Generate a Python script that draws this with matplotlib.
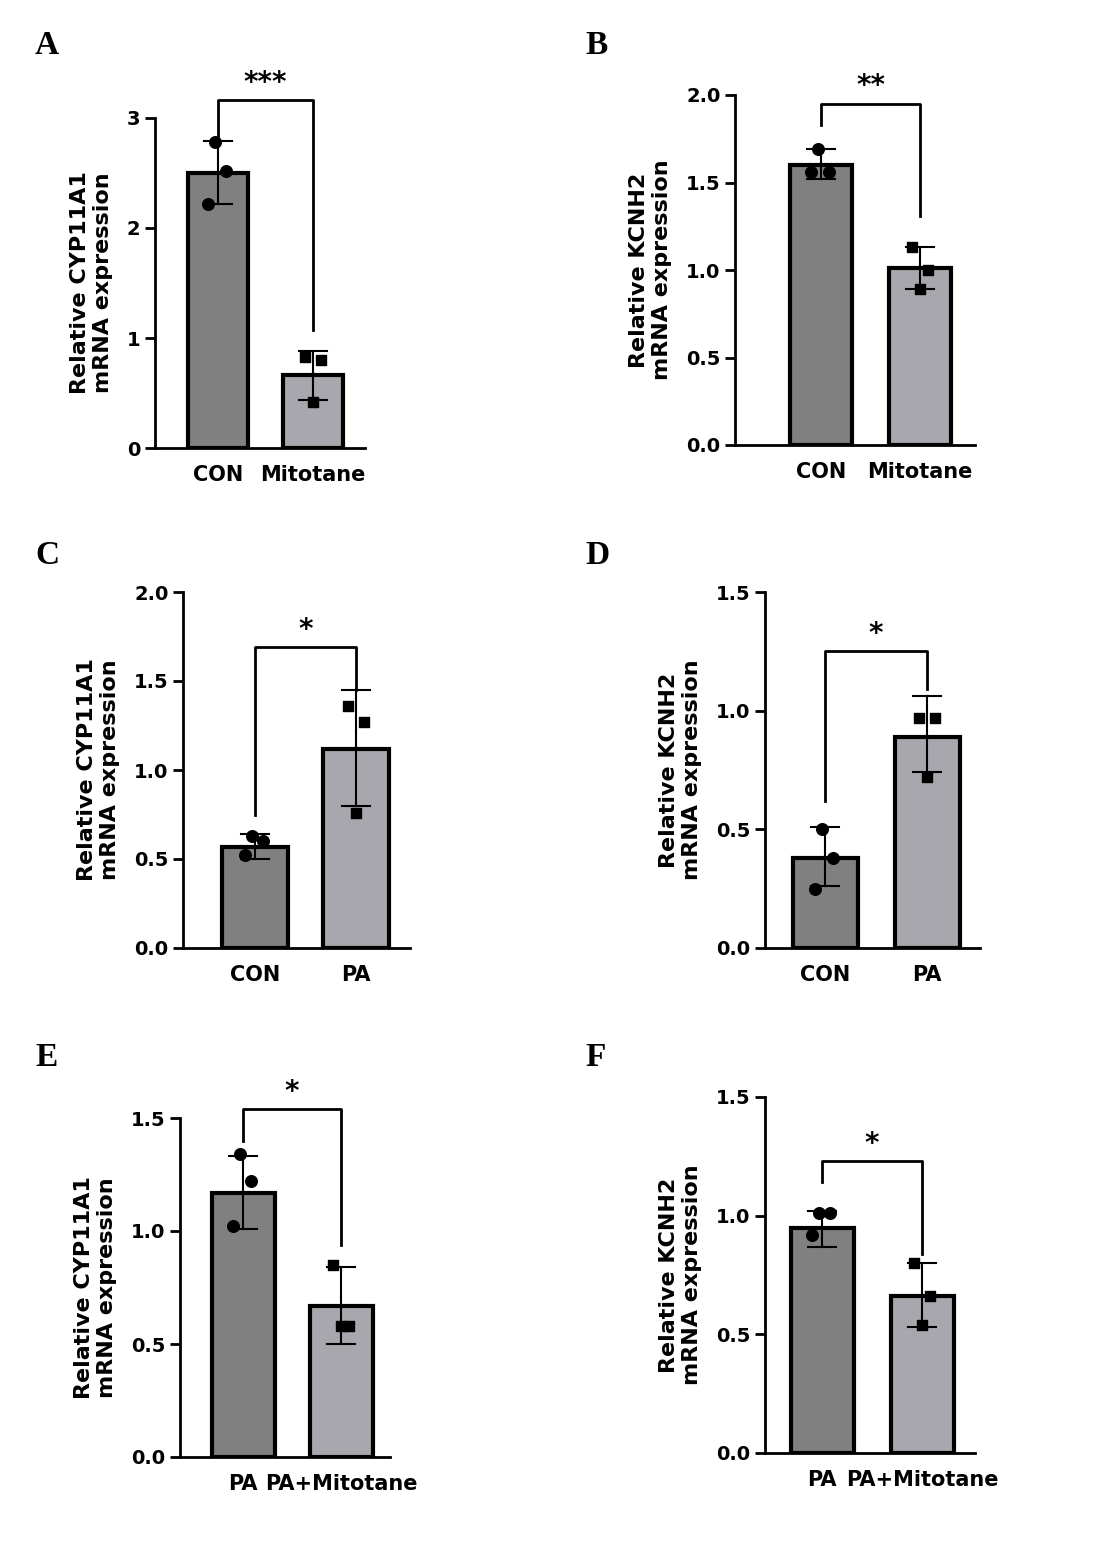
import matplotlib
matplotlib.use("Agg")
import matplotlib.pyplot as plt

W, H = 1101, 1546
labels = ["A", "B", "C", "D", "E", "F"]
cats = [["CON", "Mitotane"], ["CON", "Mitotane"], ["CON", "PA"], ["CON", "PA"], ["PA", "PA+Mitotane"], ["PA", "PA+Mitotane"]]
genes = ["CYP11A1", "KCNH2", "CYP11A1", "KCNH2", "CYP11A1", "KCNH2"]
means = [[2.5, 0.66], [1.6, 1.01], [0.57, 1.12], [0.38, 0.89], [1.17, 0.67], [0.95, 0.66]]
lows = [[2.22, 0.44], [1.52, 0.89], [0.50, 0.80], [0.26, 0.74], [1.01, 0.50], [0.87, 0.53]]
highs = [[2.79, 0.88], [1.69, 1.13], [0.64, 1.45], [0.51, 1.06], [1.33, 0.84], [1.02, 0.80]]
points = [
    [[2.78, 2.52, 2.22], [0.83, 0.80, 0.42]],
    [[1.69, 1.56, 1.56], [1.13, 1.00, 0.89]],
    [[0.63, 0.60, 0.52], [1.36, 1.27, 0.76]],
    [[0.50, 0.38, 0.25], [0.97, 0.97, 0.72]],
    [[1.34, 1.22, 1.02], [0.85, 0.58, 0.58]],
    [[1.01, 1.01, 0.92], [0.80, 0.66, 0.54]],
]
stars = ["***", "**", "*", "*", "*", "*"]
ymax = [3, 2.0, 2.0, 1.5, 1.5, 1.5]
yticks = [[0, 1, 2, 3], [0, 0.5, 1.0, 1.5, 2.0], [0, 0.5, 1.0, 1.5, 2.0], [0, 0.5, 1.0, 1.5],
          [0, 0.5, 1.0, 1.5], [0, 0.5, 1.0, 1.5]]
bracket = [(3.16, 2.82, 1.07), (1.95, 1.83, 1.31), (1.69, 0.75, 1.45), (1.25, 0.62, 1.09), (1.54, 1.40, 0.94), (1.23, 1.14, 0.84)]
lay = [(155, 365, 118, 448, 218, 313, 60),
       (735, 975, 95, 445, 821, 920, 62),
       (183, 410, 592, 948, 255, 356, 66),
       (765, 980, 592, 948, 825, 927, 65),
       (180, 390, 1118, 1457, 243, 341, 63),
       (765, 975, 1097, 1453, 822, 922, 63)]
letpos = [(35, 45), (585, 45), (35, 555), (585, 555), (35, 1058), (585, 1058)]
cols = ["#808080", "#a7a7ad"]

fig = plt.figure(figsize=(W / 100, H / 100), dpi=100)
for i in range(6):
    x0, x1, yt, yb, c1, c2, bw = lay[i]
    ax = fig.add_axes([x0 / W, 1 - yb / H, (x1 - x0) / W, (yb - yt) / H])
    ax.set_xlim(x0, x1)
    ax.set_ylim(0, ymax[i])
    xs = [c1, c2]
    for j in range(2):
        ax.bar(xs[j], means[i][j], width=bw, color=cols[j], edgecolor="black", linewidth=3, zorder=2)
        ax.plot([xs[j]] * 2, [lows[i][j], highs[i][j]], color="black", lw=1.5, zorder=3)
        for yv in (lows[i][j], highs[i][j]):
            ax.plot([xs[j] - 14, xs[j] + 14], [yv, yv], color="black", lw=1.5, zorder=3)
        dx = [-3, 8, -10] if j == 0 else [-8, 8, 0]
        ax.scatter([xs[j] + d for d in dx], points[i][j], marker="o" if j == 0 else "s",
                   s=70 if j == 0 else 60, color="black", zorder=4, clip_on=False)
    yb_, yl, yr = bracket[i]
    ax.plot([c1, c1, c2, c2], [yl, yb_, yb_, yr], color="black", lw=2, clip_on=False)
    ax.text((c1 + c2) / 2, yb_ + 0.01 * ymax[i], stars[i], ha="center", va="bottom",
            fontsize=20, fontweight="bold")
    ax.set_xticks(xs)
    ax.set_xticklabels(cats[i], fontsize=15, fontweight="bold")
    ax.tick_params(axis="x", length=0, pad=12)
    ax.set_yticks(yticks[i])
    ax.set_yticklabels([("%g" % v) if ymax[i] == 3 else "%.1f" % v for v in yticks[i]],
                       fontsize=14, fontweight="bold")
    ax.tick_params(axis="y", width=2, length=7)
    for s in ["top", "right"]:
        ax.spines[s].set_visible(False)
    for s in ["left", "bottom"]:
        ax.spines[s].set_linewidth(2)
    ax.set_ylabel("Relative %s\nmRNA expression" % genes[i], fontsize=16, fontweight="bold", labelpad=10)
    fig.text(letpos[i][0] / W, 1 - letpos[i][1] / H, labels[i], fontsize=24, fontweight="bold",
             family="Liberation Serif", va="center")

fig.savefig("out.png", dpi=100)
